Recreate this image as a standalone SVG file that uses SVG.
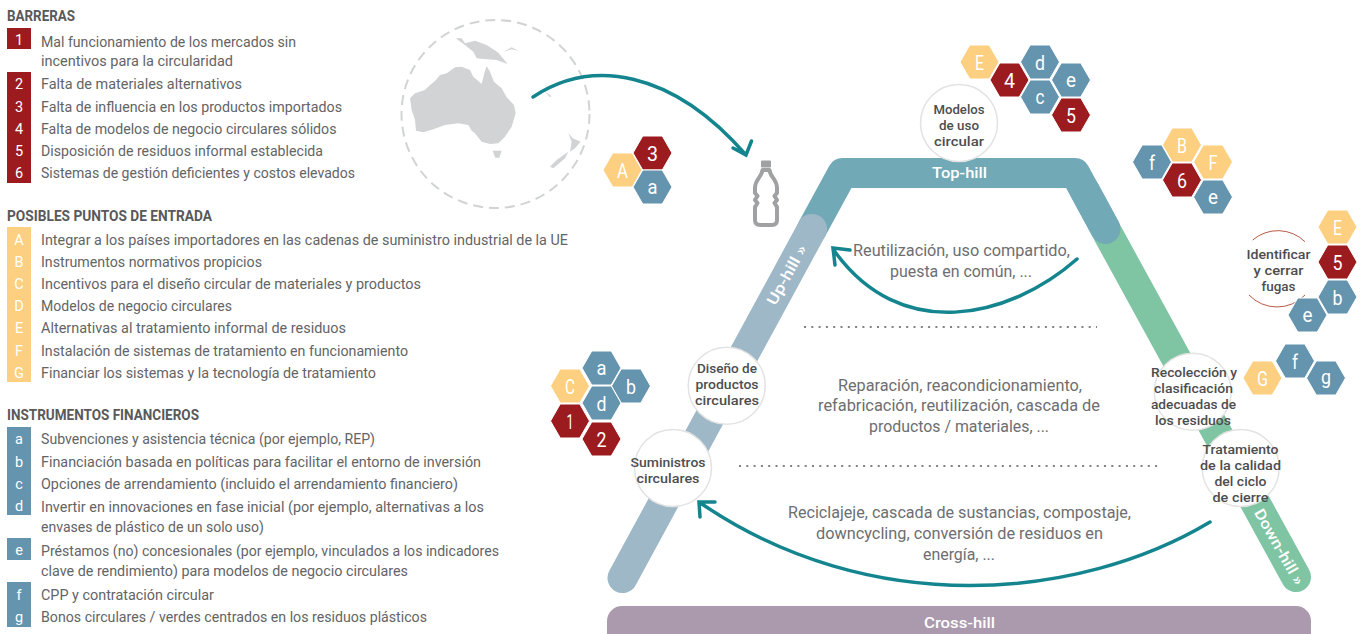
<svg xmlns="http://www.w3.org/2000/svg" xmlns:xlink="http://www.w3.org/1999/xlink" width="1365" height="634" viewBox="0 0 1365 634">
<style>
text{font-family:Roboto,"Liberation Sans",sans-serif}
.h{font-size:14px;font-weight:700;fill:#58595b}
.t{font-size:14.5px;fill:#636466}
.k{font-size:14.5px;fill:#fff;text-anchor:middle}
.n{font-size:13.5px;font-weight:500;fill:#4d4d4f;text-anchor:middle}
.c{font-size:16px;fill:#6d6e71;text-anchor:middle}
.b{font-size:15px;font-weight:500;fill:#fff;text-anchor:middle}
.x{font-size:21px;fill:#fff;text-anchor:middle}
.red{fill:#9b1b1f}.yel{fill:#fdcf80}.blu{fill:#6594ae}
.hx{stroke:#fff;stroke-width:1}
.ring{fill:#fff;stroke:#e3e3e3;stroke-width:1.5}
.arrow{fill:none;stroke:#14858f;stroke-width:3.5;stroke-linecap:round;stroke-linejoin:miter}
.dot{fill:none;stroke:#808285;stroke-width:2;stroke-dasharray:2 5.3}
.band{fill:none;stroke-width:30;stroke-linecap:round;stroke-linejoin:round}
</style>
<defs>
<polygon id="hex" points="-19.5,0 -9.75,-17 9.75,-17 19.5,0 9.75,17 -9.75,17"/>
</defs>

<g id="legend-barreras">
<text class="h" x="7" y="21" textLength="68" lengthAdjust="spacingAndGlyphs">BARRERAS</text>
<rect class="red" x="7" y="28" width="24" height="21"/>
<rect class="red" x="7" y="72" width="24" height="111"/>
<text class="k" x="19" y="45">1</text><text class="k" x="19" y="89">2</text><text class="k" x="19" y="112">3</text><text class="k" x="19" y="134">4</text><text class="k" x="19" y="156">5</text><text class="k" x="19" y="178">6</text>
<text class="t" x="41" y="47" textLength="255" lengthAdjust="spacingAndGlyphs">Mal funcionamiento de los mercados sin</text>
<text class="t" x="41" y="66" textLength="192" lengthAdjust="spacingAndGlyphs">incentivos para la circularidad</text>
<text class="t" x="41" y="89" textLength="201" lengthAdjust="spacingAndGlyphs">Falta de materiales alternativos</text>
<text class="t" x="41" y="112" textLength="301" lengthAdjust="spacingAndGlyphs">Falta de influencia en los productos importados</text>
<text class="t" x="41" y="134" textLength="295.500" lengthAdjust="spacingAndGlyphs">Falta de modelos de negocio circulares sólidos</text>
<text class="t" x="41" y="156" textLength="282" lengthAdjust="spacingAndGlyphs">Disposición de residuos informal establecida</text>
<text class="t" x="41" y="178" textLength="314" lengthAdjust="spacingAndGlyphs">Sistemas de gestión deficientes y costos elevados</text>
</g>

<g id="legend-entrada">
<text class="h" x="7" y="221" textLength="205" lengthAdjust="spacingAndGlyphs">POSIBLES PUNTOS DE ENTRADA</text>
<rect class="yel" x="7" y="227" width="24" height="155"/>
<text class="k" x="19" y="245">A</text><text class="k" x="19" y="267">B</text><text class="k" x="19" y="289">C</text><text class="k" x="19" y="311">D</text><text class="k" x="19" y="333">E</text><text class="k" x="19" y="356">F</text><text class="k" x="19" y="378">G</text>
<text class="t" x="41" y="245" textLength="527" lengthAdjust="spacingAndGlyphs">Integrar a los países importadores en las cadenas de suministro industrial de la UE</text>
<text class="t" x="41" y="267" textLength="221" lengthAdjust="spacingAndGlyphs">Instrumentos normativos propicios</text>
<text class="t" x="41" y="289" textLength="380" lengthAdjust="spacingAndGlyphs">Incentivos para el diseño circular de materiales y productos</text>
<text class="t" x="41" y="311" textLength="191" lengthAdjust="spacingAndGlyphs">Modelos de negocio circulares</text>
<text class="t" x="41" y="333" textLength="305" lengthAdjust="spacingAndGlyphs">Alternativas al tratamiento informal de residuos</text>
<text class="t" x="41" y="356" textLength="367" lengthAdjust="spacingAndGlyphs">Instalación de sistemas de tratamiento en funcionamiento</text>
<text class="t" x="41" y="378" textLength="335" lengthAdjust="spacingAndGlyphs">Financiar los sistemas y la tecnología de tratamiento</text>
</g>

<g id="legend-instrumentos">
<text class="h" x="7" y="420" textLength="192" lengthAdjust="spacingAndGlyphs">INSTRUMENTOS FINANCIEROS</text>
<rect class="blu" x="7" y="427" width="24" height="88"/>
<rect class="blu" x="7" y="538" width="24" height="22"/>
<rect class="blu" x="7" y="582" width="24" height="45"/>
<text class="k" x="19" y="444">a</text><text class="k" x="19" y="467">b</text><text class="k" x="19" y="489">c</text><text class="k" x="19" y="511">d</text><text class="k" x="19" y="555">e</text><text class="k" x="19" y="600">f</text><text class="k" x="19" y="622">g</text>
<text class="t" x="41" y="444" textLength="334" lengthAdjust="spacingAndGlyphs">Subvenciones y asistencia técnica (por ejemplo, REP)</text>
<text class="t" x="41" y="467" textLength="440" lengthAdjust="spacingAndGlyphs">Financiación basada en políticas para facilitar el entorno de inversión</text>
<text class="t" x="41" y="489" textLength="417" lengthAdjust="spacingAndGlyphs">Opciones de arrendamiento (incluido el arrendamiento financiero)</text>
<text class="t" x="41" y="512" textLength="443" lengthAdjust="spacingAndGlyphs">Invertir en innovaciones en fase inicial (por ejemplo, alternativas a los</text>
<text class="t" x="41" y="532" textLength="223" lengthAdjust="spacingAndGlyphs">envases de plástico de un solo uso)</text>
<text class="t" x="41" y="556" textLength="458" lengthAdjust="spacingAndGlyphs">Préstamos (no) concesionales (por ejemplo, vinculados a los indicadores</text>
<text class="t" x="41" y="576" textLength="367" lengthAdjust="spacingAndGlyphs">clave de rendimiento) para modelos de negocio circulares</text>
<text class="t" x="41" y="600" textLength="173" lengthAdjust="spacingAndGlyphs">CPP y contratación circular</text>
<text class="t" x="41" y="622" textLength="386" lengthAdjust="spacingAndGlyphs">Bonos circulares / verdes centrados en los residuos plásticos</text>
</g>

<g id="map">
<circle cx="495.500" cy="114" r="94" fill="none" stroke="#d1d3d4" stroke-width="2" stroke-dasharray="10 6"/>
<g transform="translate(390,10) scale(.3333)" fill="#d1d3d4">
<polygon points="60,265 75,250 105,240 120,225 135,213 150,195 170,190 195,172 215,170 240,180 250,200 275,222 283,190 290,168 300,185 312,215 335,235 350,262 372,285 377,310 365,350 345,380 325,400 300,402 275,395 255,370 245,362 235,345 205,340 165,345 130,358 100,367 78,362 75,330 65,300"/>
<polygon points="308,422 335,422 328,443 316,443"/>
<polygon points="197,85 215,85 225,100 255,92 290,105 325,128 353,162 320,150 290,148 260,145 250,125 225,105"/>
<polygon points="535,370 548,385 572,395 555,415 540,425 545,395"/>
<polygon points="535,425 525,445 490,475 480,470 500,450"/>
<polygon points="340,125 365,112 385,122 365,118"/>
<polygon points="465,245 485,258 480,262"/>
</g>
</g>

<g id="bottle" fill="none" stroke="#a0a1a3" stroke-width="4" stroke-linejoin="round">
<rect x="761" y="160.500" width="10" height="7" rx="1" fill="#a0a1a3" stroke="none"/>
<path d="M762.500,170H769.500C770,177 777,179 777,188V193L774.500,196 777,200 774.500,203 777,207V220Q777,225 772,225H760Q755,225 755,220V207L757.500,203 755,200 757.500,196 755,193V188C755,179 762,177 762.500,170Z"/>
</g>

<g id="bands">
<path class="band" stroke="#72a9b7" d="M812,229L842.500,173H1075L1105.500,229"/>
<path class="band" stroke="#80c5a3" d="M1296,577L1108,234" />
<path class="band" stroke="#72a9b7" d="M1085,191L1105.500,229"/>
<path class="band" stroke="#9fb8c8" d="M622.500,578L812,229"/>
<rect id="cross-hill" x="607" y="606" width="704" height="44" rx="15" fill="#ab9aae"/>
<text class="b" x="959.500" y="178" textLength="55" lengthAdjust="spacingAndGlyphs">Top-hill</text>
<text class="b" x="959.500" y="627.500" textLength="71" lengthAdjust="spacingAndGlyphs">Cross-hill</text>
<text class="b" transform="translate(787,275) rotate(-61)" y="5" textLength="66" lengthAdjust="spacingAndGlyphs">Up-hill »</text>
<text class="b" transform="translate(1279,547) rotate(60.500)" y="5" textLength="85" lengthAdjust="spacingAndGlyphs">Down-hill »</text>
</g>

<g id="connectors">
<path class="arrow" d="M533,97C592,58 672,70 746,155M733,148L746,155 751.500,141"/>
<path class="arrow" d="M1077,259C1010,318 900,345 833,249M850,250L833,248 835,265"/>
<path class="arrow" d="M1210,522C1080,600 870,620 699,502M715,502L699,502 700,517"/>
<path class="dot" d="M804,327H1097"/>
<path class="dot" d="M739,466H1160"/>
</g>

<g id="label-reutilizacion">
<text class="c" x="961.500" y="256" textLength="217" lengthAdjust="spacingAndGlyphs">Reutilización, uso compartido,</text>
<text class="c" x="961" y="277" textLength="142" lengthAdjust="spacingAndGlyphs">puesta en común, ...</text>
</g>
<g id="label-reparacion">
<text class="c" x="960" y="391" textLength="244" lengthAdjust="spacingAndGlyphs">Reparación, reacondicionamiento,</text>
<text class="c" x="959" y="411" textLength="282" lengthAdjust="spacingAndGlyphs">refabricación, reutilización, cascada de</text>
<text class="c" x="959" y="432" textLength="180" lengthAdjust="spacingAndGlyphs">productos / materiales, ...</text>
</g>
<g id="label-reciclaje">
<text class="c" x="959.500" y="518" textLength="343" lengthAdjust="spacingAndGlyphs">Reciclajeje, cascada de sustancias, compostaje,</text>
<text class="c" x="959.500" y="539" textLength="287" lengthAdjust="spacingAndGlyphs">downcycling, conversión de residuos en</text>
<text class="c" x="959" y="560" textLength="72" lengthAdjust="spacingAndGlyphs">energía, ...</text>
</g>

<g id="node-modelos">
<circle class="ring" cx="959" cy="123" r="38.500"/>
<text class="n" x="959" y="114" textLength="51" lengthAdjust="spacingAndGlyphs">Modelos</text>
<text class="n" x="959" y="130" textLength="40" lengthAdjust="spacingAndGlyphs">de uso</text>
<text class="n" x="959" y="146" textLength="50" lengthAdjust="spacingAndGlyphs">circular</text>
</g>
<g id="node-diseno">
<circle class="ring" cx="726.700" cy="385.700" r="38.500"/>
<text class="n" x="727" y="373" textLength="60" lengthAdjust="spacingAndGlyphs">Diseño de</text>
<text class="n" x="727" y="389" textLength="63" lengthAdjust="spacingAndGlyphs">productos</text>
<text class="n" x="727" y="405" textLength="64" lengthAdjust="spacingAndGlyphs">circulares</text>
</g>
<g id="node-suministros">
<circle class="ring" cx="673" cy="468" r="38.500"/>
<text class="n" x="668" y="467" textLength="75" lengthAdjust="spacingAndGlyphs">Suministros</text>
<text class="n" x="668" y="483" textLength="63" lengthAdjust="spacingAndGlyphs">circulares</text>
</g>
<g id="node-recoleccion">
<circle class="ring" cx="1192.700" cy="391.700" r="38.500"/>
<text class="n" x="1194" y="377" textLength="86" lengthAdjust="spacingAndGlyphs">Recolección y</text>
<text class="n" x="1193.500" y="393" textLength="79" lengthAdjust="spacingAndGlyphs">clasificación</text>
<text class="n" x="1193.500" y="409" textLength="85" lengthAdjust="spacingAndGlyphs">adecuadas de</text>
<text class="n" x="1193" y="425" textLength="76" lengthAdjust="spacingAndGlyphs">los residuos</text>
</g>
<g id="node-tratamiento">
<circle class="ring" cx="1240.700" cy="468" r="38.500"/>
<text class="n" x="1240.500" y="454" textLength="76" lengthAdjust="spacingAndGlyphs">Tratamiento</text>
<text class="n" x="1240.500" y="470" textLength="81" lengthAdjust="spacingAndGlyphs">de la calidad</text>
<text class="n" x="1240.500" y="486" textLength="52" lengthAdjust="spacingAndGlyphs">del ciclo</text>
<text class="n" x="1240.500" y="502" textLength="56" lengthAdjust="spacingAndGlyphs">de cierre</text>
</g>
<g id="node-fugas">
<path d="M1252.700,240A38.700,38.700 0 0 1 1305,241.700M1249,295A38.700,38.700 0 0 0 1305,295" fill="none" stroke="#b85a45" stroke-width="1"/>
<text class="n" x="1278.500" y="259" textLength="64" lengthAdjust="spacingAndGlyphs">Identificar</text>
<text class="n" x="1278.500" y="275" textLength="50" lengthAdjust="spacingAndGlyphs">y cerrar</text>
<text class="n" x="1278.500" y="291" textLength="34" lengthAdjust="spacingAndGlyphs">fugas</text>
</g>

<g id="hex-A3a" class="hx">
<use href="#hex" class="yel" x="622.500" y="170"/><use href="#hex" class="red" x="652.500" y="153"/><use href="#hex" class="blu" x="652.500" y="187"/>
</g>
<g id="hex-E4dce5" class="hx">
<use href="#hex" class="yel" x="979.500" y="62"/><use href="#hex" class="red" x="1009.500" y="80"/><use href="#hex" class="blu" x="1040" y="62"/><use href="#hex" class="blu" x="1040" y="97"/><use href="#hex" class="blu" x="1071" y="80"/><use href="#hex" class="red" x="1071" y="115"/>
</g>
<g id="hex-fBF6e" class="hx">
<use href="#hex" class="blu" x="1152" y="162"/><use href="#hex" class="yel" x="1182" y="145"/><use href="#hex" class="yel" x="1213" y="162"/><use href="#hex" class="red" x="1182" y="180"/><use href="#hex" class="blu" x="1213" y="197"/>
</g>
<g id="hex-E5be" class="hx">
<use href="#hex" class="yel" x="1337.500" y="227"/><use href="#hex" class="red" x="1337.500" y="262"/><use href="#hex" class="blu" x="1337.500" y="297"/><use href="#hex" class="blu" x="1307.500" y="315"/>
</g>
<g id="hex-Gfg" class="hx">
<use href="#hex" class="yel" x="1262.500" y="378"/><use href="#hex" class="blu" x="1295" y="361"/><use href="#hex" class="blu" x="1326" y="378"/>
</g>
<g id="hex-Cabd12" class="hx">
<use href="#hex" class="blu" x="601.500" y="368"/><use href="#hex" class="yel" x="570" y="386"/><use href="#hex" class="blu" x="631" y="386"/><use href="#hex" class="blu" x="601.500" y="403"/><use href="#hex" class="red" x="570" y="421"/><use href="#hex" class="red" x="601.500" y="439"/>
</g>
<g id="hex-labels">
<text class="x" x="622.500" y="177.500" textLength="11" lengthAdjust="spacingAndGlyphs">A</text><text class="x" x="652.500" y="160.500" textLength="11" lengthAdjust="spacingAndGlyphs">3</text><text class="x" x="652.500" y="194" textLength="10" lengthAdjust="spacingAndGlyphs">a</text>
<text class="x" x="979.500" y="69.500" textLength="9" lengthAdjust="spacingAndGlyphs">E</text><text class="x" x="1009.500" y="87.500" textLength="11" lengthAdjust="spacingAndGlyphs">4</text><text class="x" x="1040" y="69.500" textLength="10" lengthAdjust="spacingAndGlyphs">d</text><text class="x" x="1040" y="104" textLength="9" lengthAdjust="spacingAndGlyphs">c</text><text class="x" x="1071" y="87" textLength="10" lengthAdjust="spacingAndGlyphs">e</text><text class="x" x="1071" y="122.500" textLength="10" lengthAdjust="spacingAndGlyphs">5</text>
<text class="x" x="1152" y="169.500" textLength="6" lengthAdjust="spacingAndGlyphs">f</text><text class="x" x="1182" y="152.500" textLength="10" lengthAdjust="spacingAndGlyphs">B</text><text class="x" x="1213" y="169.500" textLength="9" lengthAdjust="spacingAndGlyphs">F</text><text class="x" x="1182" y="187.500" textLength="10" lengthAdjust="spacingAndGlyphs">6</text><text class="x" x="1213" y="204" textLength="10" lengthAdjust="spacingAndGlyphs">e</text>
<text class="x" x="1337.500" y="234.500" textLength="9" lengthAdjust="spacingAndGlyphs">E</text><text class="x" x="1337.500" y="269.500" textLength="10" lengthAdjust="spacingAndGlyphs">5</text><text class="x" x="1337.500" y="304.500" textLength="10" lengthAdjust="spacingAndGlyphs">b</text><text class="x" x="1307.500" y="322" textLength="10" lengthAdjust="spacingAndGlyphs">e</text>
<text class="x" x="1262.500" y="385.500" textLength="11" lengthAdjust="spacingAndGlyphs">G</text><text class="x" x="1295" y="368.500" textLength="6" lengthAdjust="spacingAndGlyphs">f</text><text class="x" x="1326" y="384" textLength="10" lengthAdjust="spacingAndGlyphs">g</text>
<text class="x" x="601.500" y="375" textLength="10" lengthAdjust="spacingAndGlyphs">a</text><text class="x" x="570" y="393.500" textLength="10" lengthAdjust="spacingAndGlyphs">C</text><text class="x" x="631" y="393.500" textLength="10" lengthAdjust="spacingAndGlyphs">b</text><text class="x" x="601.500" y="410.500" textLength="10" lengthAdjust="spacingAndGlyphs">d</text><text class="x" x="570" y="428.500" textLength="7" lengthAdjust="spacingAndGlyphs">1</text><text class="x" x="601.500" y="446.500" textLength="10" lengthAdjust="spacingAndGlyphs">2</text>
</g>
</svg>
